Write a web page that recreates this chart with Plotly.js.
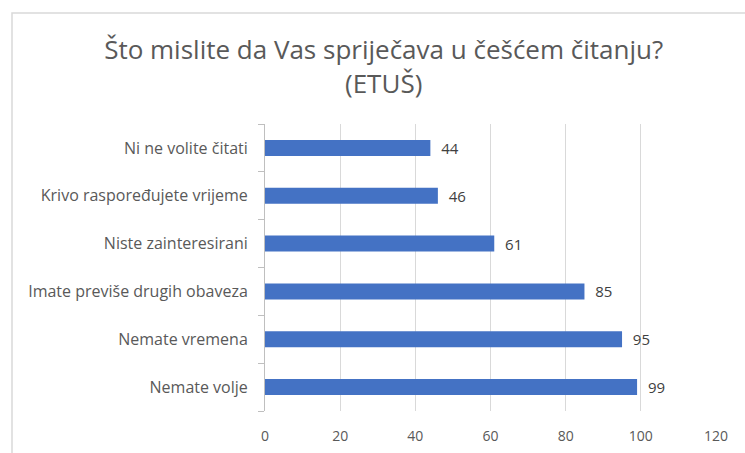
<!DOCTYPE html>
<html>
<head>
<meta charset="utf-8">
<script src="https://cdn.plot.ly/plotly-3.0.1.min.js"></script>
<style>html,body{margin:0;padding:0;background:#fff;}#chart{width:745px;height:453px;}</style>
</head>
<body>
<div id="chart"></div>
<script>
const categories = ["Nemate volje","Nemate vremena","Imate previše drugih obaveza","Niste zainteresirani","Krivo raspoređujete vrijeme","Ni ne volite čitati"];
const values = [99,95,85,61,46,44];
const xTicks = [0,20,40,60,80,100,120];

const FONT = "Open Sans, sans-serif";
const data = [{
  type: "bar",
  orientation: "h",
  y: categories,
  x: values,
  marker: {color: "#4472c4"},
  text: values.map(String),
  texttemplate: "\u00a0\u00a0%{text}",
  textposition: "outside",
  constraintext: "none",
  cliponaxis: false,
  textfont: {family: FONT, size: 15, color: "#404040"},
  hoverinfo: "none"
}];
const layout = {
  width: 745, height: 453,
  margin: {l: 265, r: 29, t: 124, b: 42},
  paper_bgcolor: "#fff", plot_bgcolor: "#fff",
  showlegend: false,
  bargap: 0.665,
  title: {
    text: "Što mislite da Vas spriječava u češćem čitanju?<br>(ETUŠ)",
    font: {family: FONT, size: 26, color: "#595959"},
    x: 0.515, xanchor: "center", y: 0.87, yanchor: "top"
  },
  xaxis: {
    range: [0,120], tickvals: xTicks, ticktext: xTicks.map(String),
    showgrid: true, gridcolor: "#d9d9d9", gridwidth: 1,
    zeroline: false, showline: false, ticks: "",
    tickfont: {family: FONT, size: 14, color: "#595959"},
    ticklabelstandoff: 15, fixedrange: true
  },
  yaxis: {
    type: "category", categoryorder: "array", categoryarray: categories,
    showline: true, linecolor: "#bfbfbf", linewidth: 1,
    ticks: "outside", tickson: "boundaries", ticklen: 6, tickcolor: "#bfbfbf",
    showgrid: false, zeroline: false,
    tickfont: {family: FONT, size: 16, color: "#595959"},
    ticklabelstandoff: 13, fixedrange: true
  },
  shapes: [{
    type: "rect", xref: "paper", yref: "paper",
    x0: (12-265)/451, x1: 1.2, y0: -0.5, y1: (411-13)/287,
    line: {color: "#d9d9d9", width: 1.5}, fillcolor: "rgba(0,0,0,0)", layer: "below"
  }]
};
Plotly.newPlot("chart", data, layout, {displayModeBar: false, staticPlot: true});
</script>
</body>
</html>
